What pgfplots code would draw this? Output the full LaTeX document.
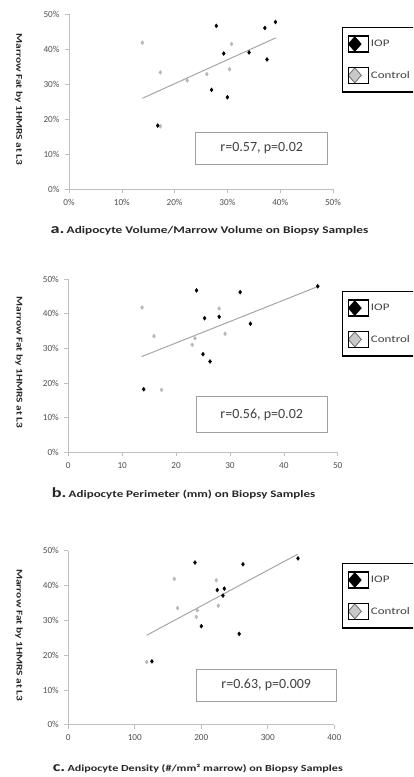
\documentclass[border=0pt]{standalone}
\usepackage{fontspec}
\setmainfont{Carlito}
\newfontfamily\wfont[FakeStretch=1.3]{Carlito}
\usepackage{pgfplots}
\pgfplotsset{compat=1.18}

\definecolor{axgray}{HTML}{BFBFBF}
\definecolor{tickgray}{HTML}{505050}
\definecolor{ctrl}{HTML}{B8B8B8}
\definecolor{ctrlleg}{HTML}{C8C8C8}
\definecolor{trend}{HTML}{A6A6A6}
\definecolor{txt}{HTML}{404040}
\definecolor{boxgray}{HTML}{A0A0A0}

\pgfplotsset{
  panel/.style={
    scale only axis,
    axis x line*=bottom, axis y line*=left,
    axis line style={draw=axgray, line width=0.8pt},
    tick style={draw=axgray, line width=0.6pt},
    tick align=outside, major tick length=4pt,
    ymin=0, ymax=50, ytick={0,10,...,50},
    yticklabels={0\%,10\%,20\%,30\%,40\%,50\%},
    ticklabel style={font=\fontsize{9.2}{10}\selectfont, text=tickgray},
    xticklabel style={yshift=-2.5pt},
    yticklabel style={xshift=-2pt},
    ylabel={Marrow Fat by 1HMRS at L3},
    ylabel style={font=\wfont\bfseries\fontsize{8.8}{10}\selectfont, text=black!85, rotate=180, anchor=center},
    xlabel style={anchor=center, text=black!85},
    clip=false,
    legend style={anchor=north west, draw=black, line width=1.3pt, fill=white,
      inner xsep=5pt, inner ysep=8pt, row sep=14pt,
      font=\wfont\fontsize{10}{11}\selectfont, text=txt},
    legend cell align=left,
  },
  iop/.style={only marks, mark=diamond*, mark size=2pt, mark options={fill=black, draw=black},
    legend image code/.code={
      \draw[fill=black, draw=black, line width=0.5pt] (0pt,0pt) -- (6.5pt,7.5pt) -- (13pt,0pt) -- (6.5pt,-7.5pt) -- cycle;
      \path (0pt,-8pt) rectangle (20pt,8pt);}},
  ctl/.style={only marks, mark=diamond*, mark size=2pt, mark options={fill=ctrl, draw=ctrl},
    legend image code/.code={
      \draw[fill=ctrlleg, draw=gray!85!black, line width=0.8pt] (0pt,0pt) -- (6.5pt,7.5pt) -- (13pt,0pt) -- (6.5pt,-7.5pt) -- cycle;
      \path (0pt,-8pt) rectangle (20pt,8pt);}},
  trendl/.style={draw=trend, line width=1pt, no marks, forget plot},
}

\begin{document}
\begin{tikzpicture}
\useasboundingbox (0pt,0pt) rectangle (413pt,-777pt);
\clip (0pt,0pt) rectangle (413pt,-777pt);

% ---------------- panel a
\begin{axis}[panel, at={(69pt,-189.3pt)}, anchor=south west, width=264pt, height=175pt,
  xmin=0, xmax=50, xtick={0,10,...,50},
  xticklabels={0\%,10\%,20\%,30\%,40\%,50\%},
  xlabel={{\wfont\bfseries\fontsize{14}{14}\selectfont a.}\ {\wfont\bfseries\fontsize{10.2}{11}\selectfont Adipocyte Volume/Marrow Volume on Biopsy Samples}},
  xlabel style={at={(axis description cs:0.532,-0.238)}},
  ylabel style={at={(axis description cs:-0.19,0.513)}},
  legend style={at={(1.034,0.929)}},
]
\addplot[trendl] coordinates {(13.9,26.0) (39.2,43.3)};
\addplot[ctl, forget plot] coordinates {(13.9,41.9) (17.3,33.4) (22.4,31.1) (26.1,32.9) (30.8,41.5) (30.4,34.3) (17.3,18.0)};
\addplot[iop] coordinates {(27.9,46.7) (39.1,47.8) (37.1,46.1) (29.3,38.8) (34.1,39.1) (37.5,37.1) (27.0,28.4) (30.0,26.3) (16.8,18.2)};
\addlegendentry{IOP}
\addlegendimage{ctl}
\addlegendentry{Control}
\node[draw=boxgray, line width=0.8pt, minimum width=131.7pt, minimum height=31.6pt, font=\fontsize{14}{15}\selectfont, text=txt] at (axis cs:36.5,11.66) {r=0.57, p=0.02};
\end{axis}

% ---------------- panel b
\begin{axis}[panel, at={(68.3pt,-452.3pt)}, anchor=south west, width=269.4pt, height=173.3pt,
  xmin=0, xmax=50, xtick={0,10,...,50},
  xticklabels={0,10,20,30,40,50},
  xlabel={{\wfont\bfseries\fontsize{14}{14}\selectfont b.}\ {\wfont\bfseries\fontsize{10}{11}\selectfont Adipocyte Perimeter (mm) on Biopsy Samples}},
  xlabel style={at={(axis description cs:0.428,-0.237)}},
  ylabel style={at={(axis description cs:-0.183,0.518)}},
  legend style={at={(1.016,0.932)}},
]
\addplot[trendl] coordinates {(13.6,27.6) (46.6,48.0)};
\addplot[ctl, forget plot] coordinates {(13.7,41.8) (15.9,33.5) (23.0,31.0) (23.5,32.9) (28.0,41.5) (29.1,34.2) (17.3,18.0)};
\addplot[iop] coordinates {(23.8,46.7) (31.9,46.2) (46.3,47.9) (25.3,38.7) (28.0,39.1) (33.8,37.1) (25.0,28.3) (26.3,26.2) (14.0,18.2)};
\addlegendentry{IOP}
\addlegendimage{ctl}
\addlegendentry{Control}
\node[draw=boxgray, line width=0.8pt, minimum width=131.3pt, minimum height=36pt, font=\fontsize{14}{15}\selectfont, text=txt] at (axis cs:35.9,10.85) {r=0.56, p=0.02};
\end{axis}

% ---------------- panel c
\begin{axis}[panel, at={(68.3pt,-724.7pt)}, anchor=south west, width=266pt, height=174pt,
  xmin=0, xmax=400, xtick={0,100,...,400},
  xticklabels={0,100,200,300,400},
  xlabel={{\wfont\bfseries\fontsize{14}{14}\selectfont c.}\ {\wfont\bfseries\fontsize{9.3}{11}\selectfont Adipocyte Density (\#/mm² marrow) on Biopsy Samples}},
  xlabel style={at={(axis description cs:0.487,-0.255)}},
  ylabel style={at={(axis description cs:-0.185,0.514)}},
  legend style={at={(1.029,0.931)}},
]
\addplot[trendl] coordinates {(117.8,25.7) (344.9,49.0)};
\addplot[ctl, forget plot] coordinates {(159.4,41.9) (164.4,33.5) (192.5,31.0) (194,32.9) (222.6,41.5) (225.6,34.2) (117.8,18.0)};
\addplot[iop] coordinates {(190.5,46.6) (262.7,46.1) (345.4,47.8) (224,38.7) (234.6,39.1) (232.6,37.1) (200,28.3) (257,26.1) (125.8,18.2)};
\addlegendentry{IOP}
\addlegendimage{ctl}
\addlegendentry{Control}
\node[draw=boxgray, line width=0.8pt, minimum width=140.7pt, minimum height=31.3pt, font=\fontsize{14}{15}\selectfont, text=txt] at (axis cs:297.7,11.3) {r=0.63, p=0.009};
\end{axis}
\end{tikzpicture}
\end{document}
